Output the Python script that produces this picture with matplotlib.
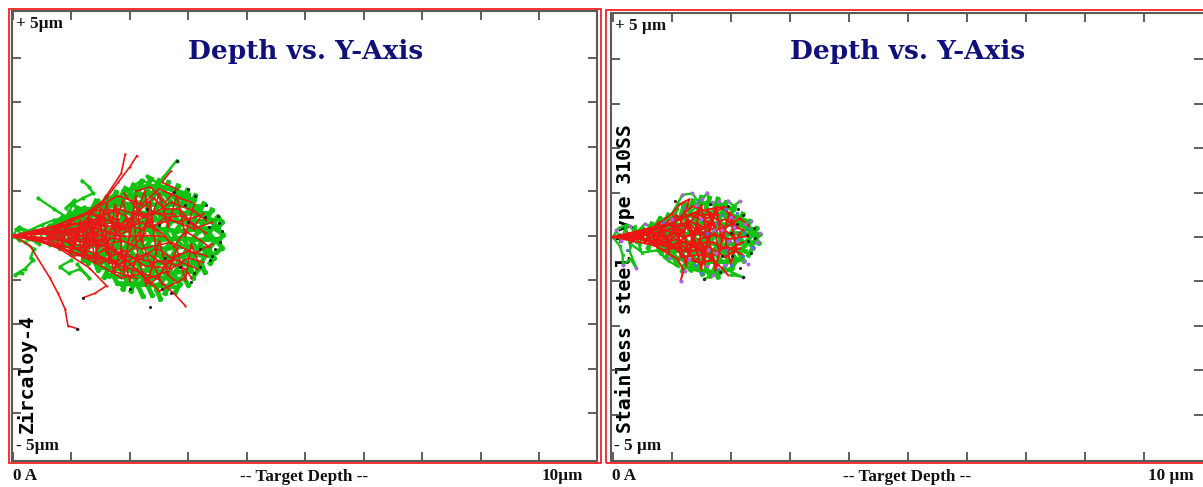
import matplotlib
matplotlib.use('Agg')
import matplotlib.pyplot as plt
from matplotlib.patches import Rectangle

W, H = 1203, 487

title = 'Depth vs. Y-Axis'
y_ticks = [-4, -3, -2, -1, 0, 1, 2, 3, 4]
x_ticks = [0, 1, 2, 3, 4, 5, 6, 7, 8, 9]

# trajectories, (depth um, y um)
zr_trails = [
    [(0,0),(.1,.2),(.25,.1),(.5,.25),(.7,.35),(.92,.41),(.7,.6),(.43,.84)],
    [(.7,.2),(.95,.5),(1.05,.8),(.9,.62),(1.2,.85),(1.37,.95),(1.3,1.1),(1.18,1.24)],
    [(0,0),(.2,-.15),(.36,-.3),(.3,-.5),(.34,-.56),(.2,-.75),(.03,-.88),(.15,-.85)],
    [(.9,.3),(1.1,.65),(1.3,.55),(1.45,.8),(1.25,.45),(1.6,.7),(1.4,.35),(1.05,.5),(.8,.35)],
    [(.6,.15),(.85,.45),(.95,.25),(1.1,.5),(.95,.55),(1.2,.3),(1.05,.7)],
    [(0,0),(.1,-.1),(.2,.12),(.05,.15),(.25,-.08),(.4,-.14),(.35,.12),(.5,.1),(.45,-.2)],
    [(2.1,.7),(2.4,1.0),(2.57,1.31),(2.8,1.69)],
    [(2.0,1.05),(2.2,1.25),(2.35,1.15),(2.3,1.35),(2.45,1.2)],
    [(1.0,-.55),(.8,-.7),(.95,-.85),(1.15,-.75),(1.3,-.95),(1.1,-.65)],
    [(1.3,.55),(1.7,.75),(1.5,.65),(1.95,.9),(1.6,.6),(2.15,1.02)],
    [(.9,.3),(1.3,.6),(1.05,.36),(1.5,.7),(1.2,.38),(1.7,.9)],
]
zr_fill = [
    [(.62,.2),(.7,.1),(.6,.02),(.72,-.08),(.63,-.2)],
    [(.85,.38),(.78,.22),(.9,.12),(.8,-.02),(.92,-.14),(.8,-.28)],
    [(1.0,.48),(1.1,.3),(.98,.18),(1.08,.02),(.97,-.12),(1.1,-.26),(1.0,-.42)],
    [(1.22,.62),(1.3,.42),(1.18,.28),(1.3,.1),(1.2,-.05),(1.32,-.22),(1.2,-.4),(1.28,-.62)],
    [(1.42,.78),(1.34,.56),(1.46,.38),(1.36,.2),(1.48,.04),(1.38,-.16),(1.5,-.34),(1.38,-.52),(1.46,-.78)],
    [(1.6,.86),(1.52,.66),(1.64,.46),(1.54,.26),(1.66,.08),(1.54,-.1),(1.66,-.3),(1.54,-.5),(1.64,-.72),(1.56,-.94)],
    [(1.76,.98),(1.68,.74),(1.8,.56),(1.7,.34),(1.82,.16),(1.7,-.04),(1.8,-.24),(1.7,-.44),(1.82,-.64),(1.7,-.86),(1.78,-1.06)],
    [(1.92,1.06),(1.84,.86),(1.96,.64),(1.86,.44),(1.98,.22),(1.86,.02),(1.96,-.18),(1.85,-.4),(1.97,-.6),(1.86,-.82),(1.95,-1.02),(1.88,-1.2)],
    [(2.06,1.14),(1.99,.94),(2.1,.76),(2.0,.52),(2.12,.32),(2.0,.1),(2.1,-.1),(2.0,-.32),(2.12,-.54),(2.01,-.74),(2.1,-.98),(2.02,-1.24)],
    [(2.2,1.22),(2.13,1.0),(2.25,.8),(2.14,.58),(2.26,.36),(2.14,.16),(2.24,-.06),(2.14,-.26),(2.26,-.5),(2.15,-.72),(2.25,-.96),(2.14,-1.14),(2.22,-1.36)],
    [(2.36,1.28),(2.28,1.06),(2.4,.86),(2.29,.62),(2.41,.42),(2.3,.2),(2.4,-.02),(2.28,-.24),(2.41,-.46),(2.29,-.68),(2.4,-.9),(2.3,-1.12),(2.38,-1.34)],
    [(2.5,1.24),(2.43,1.04),(2.55,.8),(2.44,.58),(2.56,.38),(2.44,.14),(2.54,-.08),(2.43,-.3),(2.56,-.54),(2.44,-.76),(2.55,-1.0),(2.45,-1.2),(2.52,-1.42)],
    [(2.66,1.2),(2.58,.98),(2.7,.76),(2.59,.54),(2.71,.32),(2.6,.1),(2.7,-.14),(2.58,-.36),(2.7,-.58),(2.59,-.82),(2.7,-1.04),(2.6,-1.3)],
    [(2.82,1.12),(2.74,.9),(2.86,.7),(2.75,.46),(2.87,.26),(2.75,.04),(2.85,-.18),(2.74,-.42),(2.86,-.64),(2.75,-.88),(2.85,-1.1),(2.78,-1.28)],
    [(2.98,1.02),(2.9,.82),(3.02,.6),(2.91,.4),(3.03,.18),(2.9,-.02),(3.0,-.26),(2.9,-.48),(3.02,-.7),(2.91,-.92),(3.0,-1.12)],
    [(3.12,.9),(3.05,.72),(3.17,.5),(3.06,.3),(3.18,.1),(3.05,-.12),(3.16,-.32),(3.06,-.54),(3.17,-.76),(3.08,-.95)],
    [(3.26,.72),(3.2,.56),(3.32,.38),(3.21,.18),(3.33,.0),(3.2,-.2),(3.31,-.4),(3.22,-.62),(3.28,-.82)],
    [(3.4,.58),(3.34,.42),(3.45,.24),(3.35,.06),(3.46,-.12),(3.35,-.3),(3.44,-.5),(3.37,-.62)],
    [(3.5,.42),(3.58,.3),(3.48,.14),(3.6,.02),(3.5,-.14),(3.58,-.28),(3.48,-.38)],
    # along-depth strands, closing the gaps between the columns above
    [(1.9,1.0),(2.2,1.1),(2.5,1.12),(2.8,1.0),(3.0,.92)],
    [(1.6,.78),(1.9,.88),(2.2,.92),(2.55,.95),(2.85,.88),(3.1,.8)],
    [(1.2,.52),(1.5,.62),(1.85,.7),(2.2,.72),(2.55,.68),(2.9,.72),(3.2,.65)],
    [(.95,.36),(1.3,.44),(1.6,.52),(1.95,.54),(2.3,.5),(2.65,.55),(2.95,.5),(3.3,.5)],
    [(.8,.2),(1.15,.25),(1.5,.3),(1.85,.34),(2.2,.3),(2.5,.36),(2.85,.32),(3.2,.32),(3.45,.35)],
    [(.7,.05),(1.05,.1),(1.4,.1),(1.75,.14),(2.1,.1),(2.45,.16),(2.8,.1),(3.15,.14),(3.5,.18)],
    [(.75,-.1),(1.1,-.08),(1.45,-.06),(1.8,-.12),(2.15,-.06),(2.5,-.1),(2.85,-.06),(3.2,-.1),(3.52,-.08)],
    [(.85,-.22),(1.2,-.24),(1.55,-.2),(1.9,-.3),(2.25,-.24),(2.6,-.3),(2.95,-.24),(3.3,-.28)],
    [(1.0,-.36),(1.3,-.42),(1.65,-.4),(2.0,-.48),(2.35,-.42),(2.7,-.48),(3.05,-.42),(3.38,-.46)],
    [(1.2,-.54),(1.5,-.6),(1.8,-.55),(2.15,-.64),(2.5,-.6),(2.8,-.66),(3.15,-.62)],
    [(1.45,-.72),(1.75,-.74),(2.05,-.8),(2.4,-.78),(2.7,-.84),(3.05,-.8)],
    [(1.65,-.9),(1.95,-.94),(2.25,-.92),(2.55,-.95),(2.85,-.98)],
    [(1.85,-1.08),(2.2,-1.1),(2.5,-1.12),(2.8,-1.16)],
    [(.65,.22),(.9,.34),(1.15,.42),(1.1,.58),(1.4,.6),(1.55,.72)],
]
zr_red = [
    [(0,0),(.29,-.23),(.63,-.95),(.77,-1.3),(.89,-1.65),(.94,-2.03),(1.11,-2.1)],
    [(0,0),(.7,.12),(1.2,.45),(1.54,.79),(1.7,1.1),(1.85,1.4),(1.92,1.83)],
    [(.5,.05),(1.2,.3),(1.6,.85),(1.8,1.2),(2.0,1.55),(2.12,1.8)],
    [(.2,0),(.8,-.3),(1.3,-.72),(1.6,-1.13),(1.4,-1.3),(1.2,-1.4)],
    [(.2,0),(1.1,-.4),(1.9,-.7),(2.46,-.95),(2.75,-1.3),(2.95,-1.58)],
    [(0,0),(.6,.05),(1.2,.1),(1.7,.3),(2.2,.15),(2.7,.35),(3.1,.15),(3.4,.3)],
    [(0,0),(.6,-.05),(1.2,-.15),(1.75,-.05),(2.2,-.3),(2.7,-.15),(3.1,-.4),(3.4,-.2)],
    [(0,0),(.7,.18),(1.3,.3),(1.8,.6),(2.3,.4),(2.7,.75),(3.1,.55),(3.3,.35)],
    [(0,0),(.7,-.2),(1.3,-.35),(1.8,-.65),(2.3,-.4),(2.7,-.75),(3.0,-.5),(3.25,-.6)],
    [(0,0),(.8,.25),(1.4,.6),(1.8,.9),(2.2,.7),(2.5,1.05),(2.85,.85),(3.05,.75)],
    [(0,0),(.8,-.25),(1.4,-.6),(1.85,-.95),(2.2,-.85),(2.5,-1.25),(2.8,-1.05),(2.95,-.95)],
    [(0,0),(.6,.08),(1.0,.28),(1.5,.25),(1.9,.15),(2.4,.55),(2.8,.3),(3.2,.45)],
    [(0,0),(.6,-.1),(1.0,-.3),(1.5,-.2),(1.9,-.45),(2.4,-.6),(2.8,-.55),(3.15,-.75)],
    [(.1,0),(.5,.1),(.9,.05),(1.3,.2),(1.1,.02),(1.5,-.12),(1.2,-.25),(.8,-.08)],
    [(.3,.03),(.7,.2),(1.0,.38),(1.3,.5),(1.6,.35),(1.35,.18),(1.75,.05),(2.0,.3)],
    [(.3,-.03),(.75,-.22),(1.05,-.45),(1.4,-.45),(1.65,-.25),(1.9,-.55),(1.7,-.8),(2.1,-.95)],
    [(1.9,.95),(2.15,.55),(2.4,.85),(2.6,.6),(2.85,.6),(3.05,.3),(3.3,.05)],
    [(2.0,-.2),(2.3,.3),(2.55,.05),(2.75,-.25),(2.95,.1),(3.2,-.1),(3.35,-.25)],
    [(2.1,-.75),(2.35,-1.1),(2.5,-.9),(2.65,-.6),(2.95,-.75),(3.05,-.95)],
    [(2.1,1.0),(2.35,1.1),(2.6,.75),(2.8,1.05),(2.55,1.2),(2.7,1.45)],
    [(.55,.12),(.65,-.1),(.75,.2),(.85,-.2),(.95,.3),(1.05,-.28),(1.15,.36),(1.25,-.4),(1.35,.3),(1.45,-.5)],
    [(.6,-.14),(.7,.16),(.8,-.26),(.9,.22),(1.0,-.36),(1.1,.14),(1.2,-.5),(1.3,.5),(1.4,-.62),(1.5,.62)],
    [(.7,.05),(.85,.28),(1.0,-.12),(1.15,.2),(1.3,-.28),(1.45,.46),(1.6,-.4),(1.75,.7),(1.85,-.2)],
    [(1.15,.1),(1.3,.38),(1.4,-.1),(1.55,.55),(1.65,-.62),(1.8,.38),(1.9,-.82),(2.05,.55),(2.15,-.6)],
    [(1.5,.1),(1.6,.72),(1.72,.12),(1.88,.8),(2.0,.0),(2.1,.9),(2.2,-.15),(2.35,.75),(2.45,-.4)],
    [(1.6,-.1),(1.72,-.78),(1.85,-.3),(2.0,-1.02),(2.12,-.42),(2.28,-1.12),(2.4,-.62),(2.55,-1.1)],
    [(2.1,.4),(2.25,1.0),(2.35,.3),(2.5,.95),(2.65,.2),(2.8,.9),(2.95,.0),(3.1,.72)],
    [(2.2,-.12),(2.38,-.72),(2.5,-.12),(2.65,-.88),(2.8,-.28),(2.95,-1.0),(3.05,-.2),(3.2,-.7)],
    [(.45,.06),(.8,.12),(1.1,-.04),(1.4,.08),(1.25,.28),(1.6,.22),(1.45,-.24),(1.85,-.12),(1.6,.52)],
    [(.45,-.06),(.9,-.12),(1.25,-.08),(1.15,-.32),(1.5,-.62),(1.75,-.4),(1.55,-.15),(1.95,.1),(1.7,.42)],
    [(.7,-.02),(1.05,.14),(1.35,.38),(1.2,.1),(1.58,-.02),(1.38,-.46),(1.78,-.58),(2.05,-.28),(2.25,.05)],
    [(.9,.1),(1.2,-.16),(1.5,.4),(1.32,.55),(1.72,.58),(1.95,.42),(1.8,.1),(2.2,.3),(2.45,.12)],
    [(1.0,0),(1.35,.0),(1.55,-.3),(1.85,-.78),(2.2,-.5),(2.45,-.28),(2.7,-.5),(3.0,-.35),(3.3,-.45)],
    [(1.9,.2),(2.15,.6),(2.4,.2),(2.6,.4),(2.9,.45),(3.1,.2),(3.25,.5)],
    [(.3,.02),(.55,.04),(.8,-.04),(1.05,.06),(1.3,-.06),(1.6,.05),(1.9,-.02),(2.3,.0),(2.6,-.02)],
    [(.6,.02),(.95,.14),(1.25,.22),(1.55,.4),(1.8,.22),(2.1,.48),(2.5,.5),(2.75,.48)],
    [(.6,-.02),(.95,-.16),(1.3,-.5),(1.6,-.52),(1.9,-.34),(2.25,-.68),(2.55,-.72),(2.85,-.42)],
    [(1.2,.0),(1.45,-.2),(1.7,-.25),(2.0,-.62),(2.3,-.98),(2.6,-.82),(2.75,-1.0)],
]
zr_dots = [(3.3,.7),(3.5,.45),(3.58,.1),(3.55,-.15),(3.4,-.45),(3.2,-.7),(3.05,-1.05),(2.7,-1.3),
           (2.35,-1.6),(2.0,-1.2),(1.2,-1.4),(1.1,-2.1),(2.8,1.68),(3.0,1.05),(2.3,.6),(2.6,-.5),
           (3.0,.3),(3.2,-.3),(2.85,-.7),(2.5,.25),(3.35,.2),(2.95,.7),(3.1,-.85),(3.45,-.3),
           (3.12,.9),(3.28,.42),(2.75,.98),(3.37,-.55),(2.55,-1.2),(3.52,.28)]

ss_trails = [
    [(0,0),(.1,.2),(.25,.28),(.4,.1),(.55,.3),(.7,.18)],
    [(0,0),(.12,-.2),(.17,-.4),(.17,-.63),(.3,-.5),(.4,-.7),(.28,-.3)],
    [(.06,.15),(.14,-.1),(.22,.22),(.3,-.22),(.38,.24),(.46,-.26),(.52,.2),(.4,-.12)],
    [(.3,.02),(.7,.2),(1.0,.52),(1.1,.75),(1.18,.95),(1.35,.98),(1.45,.8)],
    [(.4,0),(.9,.2),(1.25,.5),(1.45,.7),(1.6,1.0),(1.65,.75)],
    [(.4,0),(1.0,.15),(1.4,.3),(1.75,.65),(1.95,.82),(2.05,.7),(2.15,.8)],
    [(.3,-.15),(.5,-.35),(.75,-.3),(.95,-.55),(1.1,-.65)],
    [(.4,0),(.9,-.25),(1.2,-.55),(1.45,-.7),(1.7,-.85),(1.55,-.95)],
    [(1.95,-.75),(2.2,-.9),(2.0,-.85)],
]
ss_fill = [
    [(.66,.3),(.58,.1),(.68,-.06),(.6,-.24)],
    [(.8,.42),(.72,.22),(.84,.04),(.74,-.14),(.82,-.36)],
    [(.94,.5),(.88,.3),(.98,.1),(.88,-.1),(.98,-.28),(.9,-.46)],
    [(1.08,.62),(1.02,.4),(1.12,.2),(1.02,.0),(1.13,-.2),(1.02,-.4),(1.08,-.6)],
    [(1.22,.74),(1.16,.52),(1.27,.3),(1.16,.1),(1.27,-.12),(1.16,-.34),(1.26,-.54),(1.18,-.76)],
    [(1.36,.82),(1.3,.6),(1.4,.38),(1.3,.16),(1.41,-.06),(1.3,-.28),(1.4,-.5),(1.32,-.74)],
    [(1.5,.9),(1.44,.66),(1.54,.44),(1.44,.22),(1.55,.0),(1.44,-.22),(1.54,-.44),(1.45,-.66),(1.52,-.84)],
    [(1.64,.88),(1.58,.66),(1.68,.42),(1.58,.2),(1.69,-.02),(1.58,-.24),(1.68,-.46),(1.58,-.68),(1.65,-.88)],
    [(1.78,.86),(1.72,.62),(1.82,.4),(1.72,.16),(1.83,-.06),(1.72,-.3),(1.82,-.52),(1.72,-.72),(1.78,-.9)],
    [(1.92,.78),(1.86,.56),(1.96,.36),(1.86,.12),(1.97,-.08),(1.86,-.3),(1.96,-.52),(1.87,-.74)],
    [(2.06,.68),(2.0,.48),(2.1,.28),(2.0,.08),(2.11,-.12),(2.0,-.32),(2.1,-.52),(2.02,-.7)],
    [(2.2,.52),(2.14,.36),(2.24,.18),(2.14,.0),(2.25,-.18),(2.14,-.36),(2.22,-.54)],
    [(2.33,.36),(2.28,.2),(2.38,.06),(2.28,-.08),(2.38,-.24),(2.3,-.4)],
    [(2.44,.2),(2.4,.08),(2.5,.06),(2.42,-.04),(2.48,-.14)],
    # along-depth strands
    [(1.2,.66),(1.5,.76),(1.8,.74),(2.05,.62)],
    [(.9,.4),(1.2,.46),(1.5,.52),(1.8,.52),(2.1,.46),(2.3,.34)],
    [(.7,.2),(1.0,.26),(1.3,.3),(1.6,.32),(1.9,.28),(2.2,.26),(2.4,.16)],
    [(.6,.03),(.9,.06),(1.2,.06),(1.5,.08),(1.8,.04),(2.1,.08),(2.44,.04)],
    [(.65,-.12),(.95,-.14),(1.25,-.16),(1.55,-.12),(1.85,-.18),(2.15,-.14),(2.4,-.12)],
    [(.8,-.28),(1.1,-.3),(1.4,-.32),(1.7,-.36),(2.0,-.3),(2.25,-.32)],
    [(1.0,-.46),(1.3,-.52),(1.6,-.56),(1.9,-.56),(2.15,-.5)],
    [(1.2,-.66),(1.5,-.76),(1.8,-.8),(2.0,-.72)],
]
ss_red = [
    [(0,0),(.7,.22),(1.0,.52),(1.15,.75),(1.3,.85),(1.25,.65)],
    [(0,0),(.7,-.18),(1.1,-.5),(1.2,-.75),(1.15,-1.0)],
    [(0,0),(.8,.1),(1.3,.35),(1.6,.2),(1.9,.4),(2.2,.15)],
    [(0,0),(.8,-.1),(1.3,-.35),(1.6,-.2),(1.9,-.45),(2.15,-.25)],
    [(0,0),(.5,.03),(.9,.15),(1.2,.0),(1.6,.12),(1.95,-.05),(2.3,.02)],
    [(0,0),(.5,-.03),(.9,-.2),(1.25,-.1),(1.6,-.42),(1.85,-.7),(1.95,-.85)],
    [(0,0),(.6,.15),(1.05,.35),(1.4,.55),(1.6,.42),(1.85,.65),(2.05,.45)],
    [(.1,0),(.4,.12),(.7,.05),(.95,.28),(1.2,.12),(.9,-.1),(1.15,-.28),(.7,-.15)],
    [(.5,0),(.85,-.3),(1.2,-.2),(1.4,-.55),(1.55,-.3),(1.45,-.05),(1.75,.05)],
    [(.9,.28),(1.25,.25),(1.5,.62),(1.3,.5),(1.7,.3),(1.45,.12),(1.25,.35)],
    [(.25,.1),(.35,-.1),(.45,.14),(.55,-.14),(.65,.22),(.75,-.22),(.85,.3),(.95,-.34),(1.05,.42),(1.15,-.46)],
    [(.3,-.12),(.42,.1),(.55,.18),(.68,-.18),(.8,.1),(.92,-.06),(1.04,.22),(1.16,-.14),(1.28,.4),(1.4,-.3)],
    [(.6,.05),(.78,.34),(.9,-.02),(1.05,-.24),(1.18,.18),(1.3,-.42),(1.45,.3),(1.55,-.6),(1.68,.5),(1.8,-.35)],
    [(1.1,.05),(1.22,.6),(1.35,-.08),(1.5,.72),(1.6,-.12),(1.75,.68),(1.85,-.1),(1.98,.55),(2.1,-.25)],
    [(1.12,-.06),(1.24,-.62),(1.36,.1),(1.5,-.72),(1.62,.02),(1.74,-.74),(1.88,.12),(2.0,-.62),(2.15,.1)],
    [(.4,-.02),(.62,.14),(.82,-.08),(1.02,.1),(1.22,-.02),(1.42,.16),(1.62,-.04),(1.82,.22),(2.02,.04)],
    [(.3,.02),(.55,-.06),(.8,.06),(1.0,-.18),(1.2,-.3),(1.42,-.18),(1.65,-.48),(1.92,-.2),(2.2,-.4)],
    [(.5,.08),(.72,-.04),(.98,.05),(1.15,.3),(1.38,.1),(1.62,.3),(1.5,.5),(1.78,.5)],
    [(.55,-.08),(.8,-.16),(1.1,-.04),(1.32,-.2),(1.52,-.16),(1.72,-.52),(1.48,-.58),(1.28,-.5)],
    [(.8,.2),(1.08,.5),(1.22,.22),(1.52,.06),(1.74,.22),(1.6,.62),(1.9,.68),(2.1,.2)],
    [(.7,-.06),(.95,-.12),(1.2,-.44),(1.45,-.4),(1.35,-.14),(1.7,-.12),(1.95,-.3),(2.2,-.12)],
    [(.6,.1),(.9,.24),(1.15,.46),(1.35,.7),(1.65,.55),(1.9,.2),(2.15,.42),(2.3,.26)],
]
ss_purple = [(1.18,.95),(1.35,.98),(1.6,1.0),(1.95,.82),(2.15,.8),(2.35,.35),(2.5,.08),(2.45,-.12),
             (2.3,-.6),(2.2,-.9),(1.7,-.85),(1.15,-1.0),(.4,-.7),(.17,-.63),(.55,.3),(2.0,.45),
             (1.75,-.35),(1.5,.4),(2.1,-.1),(1.3,-.5),(1.85,.15),(1.0,.4),(2.25,.3),(1.6,-.65),
             (.14,-.1),(.06,.15),(.3,.24),(1.9,-.62),(2.05,.22),(1.68,.78),(1.42,.72),(.95,-.48),
             (1.22,-.76),(1.52,.86),(1.8,.8),(2.22,-.54),(2.38,-.24),(1.97,-.08),(1.72,.16),(1.62,-.3)]
ss_blue = [(1.45,.8),(1.65,.75),(1.85,.5),(2.1,.55),(2.22,.12),(2.2,-.42),(1.92,-.3),(1.5,-.8),(1.75,.32),
           (1.2,.65),(.85,.34),(2.38,-.22),(2.0,-.62),(1.6,.1),(.25,-.3),(1.9,.62),(2.3,.2),(1.4,-.62),
           (2.12,-.05),(1.78,-.72)]
ss_black = [(2.2,.5),(2.4,.2),(2.35,-.35),(2.15,-.7),(1.95,.7),(2.2,-.9),(1.65,.75),(1.55,-.95),
            (2.28,.04),(2.1,.3),(2.02,-.42),(1.82,-.78),(2.12,.62),(1.05,.82),(2.3,-.1),(2.42,-.02),
            (1.85,-.42),(2.0,.08)]


def px_rect(x0, y0, x1, y1):
    return [x0/W, 1-y1/H, (x1-x0)/W, (y1-y0)/H]


def ftext(x, y, s, **kw):
    fig.text(x/W, 1-y/H, s, va='center', **kw)


def make_panel(box, x0, x_scale, y_mid, y_scale):
    ax = fig.add_axes(px_rect(*box))
    ax.set_xlim((box[0]-x0)/x_scale, (box[2]-x0)/x_scale)
    ax.set_ylim((y_mid-box[3])/y_scale, (y_mid-box[1])/y_scale)
    ax.set_xticks(x_ticks)
    ax.set_yticks(y_ticks)
    ax.tick_params(direction='in', length=6.3, width=1.2, color='#444444',
                   top=True, right=True, labelbottom=False, labelleft=False)
    for s in ax.spines.values():
        s.set_color('#5a5a5a')
        s.set_linewidth(1.5)
    return ax


def draw_paths(ax, paths, color, lw, ms):
    for p in paths:
        xs = [q[0] for q in p]
        ys = [q[1] for q in p]
        ax.plot(xs, ys, color=color, lw=lw, marker='o', ms=ms, mec='none', zorder=3)


def draw_dots(ax, pts, color, ms):
    ax.plot([q[0] for q in pts], [q[1] for q in pts], ls='', marker='o', ms=ms, color=color, mec='none', zorder=4)


fig = plt.figure(figsize=(W/100, H/100), dpi=100)

fig.add_artist(Rectangle((9/W, 1-462.5/H), 591.5/W, 454/H, transform=fig.transFigure,
                         fill=False, ec='#f01010', lw=1.2))
fig.add_artist(Rectangle((606/W, 1-462.5/H), 610/W, 452.5/H, transform=fig.transFigure,
                         fill=False, ec='#f01010', lw=1.2))

ax1 = make_panel((11.5, 11, 597, 460.5), 13, 58.45, 235.6, 44.4)
ax2 = make_panel((610.5, 12.7, 1203, 460.5), 612.7, 59, 237, 44.4)
ax2.spines['right'].set_visible(False)

# side labels sit behind the clouds
for ax, xp, label in [(ax1, 27, 'Zircaloy-4'), (ax2, 625, 'Stainless steel type 310SS')]:
    ax.text(xp/W, 1-433/H, label, rotation=90, ha='center', va='bottom', color='black',
            family='DejaVu Sans Mono', weight='bold', fontsize=14.2,
            transform=fig.transFigure, zorder=1)

draw_paths(ax1, zr_trails, '#12c212', 1.7, 3.0)
draw_paths(ax1, zr_fill, '#12c212', 3.4, 3.8)
draw_paths(ax1, zr_red, '#e81818', 1.2, 1.6)
draw_dots(ax1, zr_dots, '#222222', 2.2)

draw_paths(ax2, ss_trails, '#14c214', 1.7, 2.4)
draw_paths(ax2, ss_fill, '#14c214', 3.2, 3.4)
draw_paths(ax2, ss_red, '#ee1414', 1.4, 1.6)
draw_dots(ax2, ss_purple, '#b060e8', 2.8)
draw_dots(ax2, ss_blue, '#5070e0', 2.4)
draw_dots(ax2, ss_black, '#222222', 2.2)

serif = dict(family='Liberation Serif', weight='bold', color='#111111', fontsize=12.3)
head = dict(family='DejaVu Serif', weight='bold', color='#10107a', fontsize=19)
ftext(306, 51, title, ha='center', **head)
ftext(908, 52, title, ha='center', **head)

ftext(16, 23.5, '+ 5\u00b5m', ha='left', **serif)
ftext(16, 446, '- 5\u00b5m', ha='left', **serif)
ftext(13, 476, '0 A', ha='left', **serif)
ftext(304, 477, '-- Target Depth --', ha='center', **serif)
ftext(542, 476, '10\u00b5m', ha='left', **serif)

ftext(615, 25.5, '+ 5 \u00b5m', ha='left', **serif)
ftext(614, 446, '- 5 \u00b5m', ha='left', **serif)
ftext(612, 476, '0 A', ha='left', **serif)
ftext(907, 477, '-- Target Depth --', ha='center', **serif)
ftext(1148, 476, '10 \u00b5m', ha='left', **serif)

fig.savefig('out.png', dpi=100)
